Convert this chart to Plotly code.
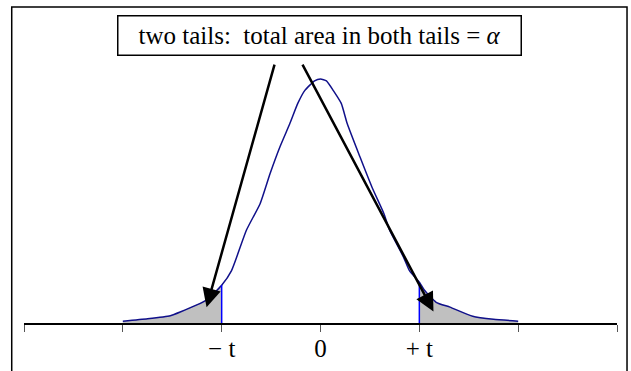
"""
Two-tailed t test sketch: density curve with both tails shaded.
"""

import plotly.graph_objects as go

# curve (x in tick units, y as density)
curve_x = [-2.00, -1.75, -1.52, -1.42, -1.16, -1.00, -0.90, -0.75, -0.61, -0.51,
           -0.41, -0.31, -0.23, -0.16, -0.06, 0.00, 0.06, 0.13, 0.21, 0.27,
           0.40, 0.52, 0.64, 0.70, 0.84, 0.90, 1.00, 1.05, 1.17, 1.31,
           1.54, 1.75, 2.00]
curve_y = [0.003, 0.007, 0.012, 0.018, 0.037, 0.062, 0.086, 0.152, 0.196, 0.245,
           0.289, 0.327, 0.360, 0.381, 0.397, 0.400, 0.397, 0.381, 0.360, 0.327,
           0.272, 0.223, 0.180, 0.152, 0.108, 0.086, 0.067, 0.054, 0.034, 0.026,
           0.011, 0.006, 0.003]

t_crit = 1.0
tick_vals = [-3, -2, -1, 0, 1, 2, 3]
tick_text = ["", "", "\u2212 t", "0", "+ t", "", ""]
box_text = "two tails:  total area in both tails = <i>\u03b1</i>"

SERIF = "Liberation Serif, Times New Roman, serif"
NAVY = "#10108a"

fig = go.Figure()

# shaded tails
left_x = [x for x in curve_x if x <= -t_crit]
left_y = [y for x, y in zip(curve_x, curve_y) if x <= -t_crit]
right_x = [x for x in curve_x if x >= t_crit]
right_y = [y for x, y in zip(curve_x, curve_y) if x >= t_crit]
for tx, ty in [(left_x, left_y), (right_x, right_y)]:
    fig.add_trace(go.Scatter(
        x=[tx[0]] + tx + [tx[-1]], y=[0] + ty + [0],
        fill="toself", fillcolor="#c0c0c0",
        mode="lines", line=dict(color="rgba(0,0,0,0)", width=0),
        hoverinfo="skip",
    ))

# density curve
fig.add_trace(go.Scatter(
    x=curve_x, y=curve_y, mode="lines",
    line=dict(color=NAVY, width=1.5, shape="spline", smoothing=0.5),
))

# critical value lines
for tx, ty in [(left_x[-1], left_y[-1]), (right_x[0], right_y[0])]:
    fig.add_trace(go.Scatter(
        x=[tx, tx], y=[0, ty], mode="lines",
        line=dict(color="#0000ff", width=1.5),
    ))

# text box
fig.add_annotation(
    x=-0.015, y=0.472, xref="x", yref="y",
    text=box_text, showarrow=False,
    font=dict(family=SERIF, size=25, color="black"),
    bordercolor="black", borderwidth=1.5, bgcolor="white",
    width=396, height=32, borderpad=3,
)

# arrows from the box to the tails
for tip, start in [((-1.153, 0.026), (-0.461, 0.426)),
                   ((1.143, 0.019), (-0.190, 0.426))]:
    fig.add_annotation(
        x=tip[0], y=tip[1], ax=start[0], ay=start[1],
        xref="x", yref="y", axref="x", ayref="y",
        text="", showarrow=True,
        arrowhead=2, arrowsize=1.5, arrowwidth=2.5, arrowcolor="black",
    )

# outer frame (bottom edge runs off the image)
fig.add_shape(
    type="rect", xref="paper", yref="paper",
    x0=-0.0207, x1=1.0169, y0=-0.4, y1=0.978,
    line=dict(color="black", width=1.5),
)

fig.update_layout(
    width=631, height=371,
    margin=dict(l=24, r=14, t=0, b=48),
    plot_bgcolor="white", paper_bgcolor="white",
    showlegend=False,
    font=dict(family=SERIF),
    xaxis=dict(
        range=[-3, 3], showgrid=False, zeroline=False,
        showline=True, linecolor="black", linewidth=1.5,
        ticks="outside", ticklen=7, tickwidth=1, tickcolor="#555555",
        tickvals=tick_vals, ticktext=tick_text,
        tickfont=dict(family=SERIF, size=25, color="black"),
        ticklabelstandoff=-5,
    ),
    yaxis=dict(range=[0, 0.5295], visible=False),
)

fig.write_html("out.html", config={"displayModeBar": False},
               post_script="document.body.style.margin='0';")
